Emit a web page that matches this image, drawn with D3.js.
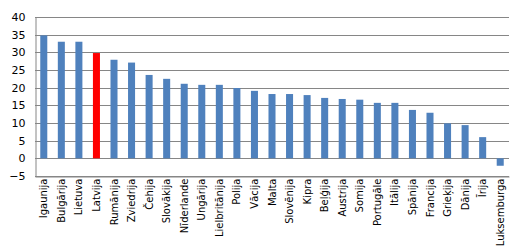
<!DOCTYPE html>
<html>
<head>
<meta charset="utf-8">
<script src="https://cdnjs.cloudflare.com/ajax/libs/d3/7.8.5/d3.min.js"></script>
<style>
  body { margin: 0; background: #fff; }
  svg { display: block; font-family: "DejaVu Sans", Verdana, sans-serif; }
</style>
</head>
<body>
<script>
const countries = ["Igaunija", "Bulgārija", "Lietuva", "Latvija", "Rumānija", "Zviedrija", "Čehija", "Slovākija",
  "Nīderlande", "Ungārija", "Lielbritānija", "Polija", "Vācija", "Malta", "Slovēnija", "Kipra", "Beļģija",
  "Austrija", "Somija", "Portugāle", "Itālija", "Spānija", "Francija", "Grieķija", "Dānija", "Īrija", "Luksemburga"];
const values = [34.8, 33.0, 33.0, 29.8, 27.9, 27.1, 23.6, 22.5,
  21.1, 20.8, 20.8, 19.9, 19.1, 18.2, 18.2, 17.9, 17.1,
  16.8, 16.6, 15.7, 15.7, 13.7, 12.9, 9.9, 9.4, 6.0, -2.1];
const highlight = "Latvija";
const yTicks = [-5, 0, 5, 10, 15, 20, 25, 30, 35, 40];

const width = 519, height = 249;
const margin = {top: 17, right: 10, bottom: 73, left: 35};

const svg = d3.select("body").append("svg").attr("width", width).attr("height", height);

const x = d3.scaleBand().domain(countries)
  .range([margin.left, width - margin.right]).paddingInner(0.6).paddingOuter(0.3);
const y = d3.scaleLinear().domain([-5, 40]).range([height - margin.bottom, margin.top]);

// gridlines
svg.append("g")
  .selectAll("line")
  .data(yTicks)
  .join("line")
  .attr("x1", margin.left).attr("x2", width - margin.right)
  .attr("y1", d => Math.round(y(d)) + 0.5).attr("y2", d => Math.round(y(d)) + 0.5)
  .attr("stroke", "#868686");

// bars
svg.append("g")
  .selectAll("rect")
  .data(countries)
  .join("rect")
  .attr("x", d => x(d))
  .attr("width", x.bandwidth())
  .attr("y", (d, i) => y(Math.max(0, values[i])))
  .attr("height", (d, i) => Math.abs(y(values[i]) - y(0)))
  .attr("fill", d => d === highlight ? "#ff0000" : "#4f81bd");

// y axis
const yAxis = svg.append("g")
  .attr("transform", "translate(" + (margin.left + 0.5) + ",0)")
  .call(d3.axisLeft(y).tickValues(yTicks).tickSize(0).tickPadding(10));
yAxis.select(".domain").attr("stroke", "#868686");
yAxis.selectAll("text").attr("font-size", 11).attr("fill", "#000").attr("font-family", "DejaVu Sans, Verdana, sans-serif");

// x axis (at the bottom of the plot)
const xAxis = svg.append("g")
  .attr("transform", "translate(0," + (Math.round(y(-5)) + 0.5) + ")")
  .call(d3.axisBottom(x).tickSize(0));
xAxis.select(".domain").attr("stroke", "#868686");
xAxis.selectAll("text")
  .attr("font-size", 10).attr("fill", "#000").attr("font-family", "DejaVu Sans, Verdana, sans-serif")
  .attr("text-anchor", "end")
  .attr("transform", "rotate(-90)")
  .attr("x", -2).attr("y", 0).attr("dy", "0.35em");
</script>
</body>
</html>
